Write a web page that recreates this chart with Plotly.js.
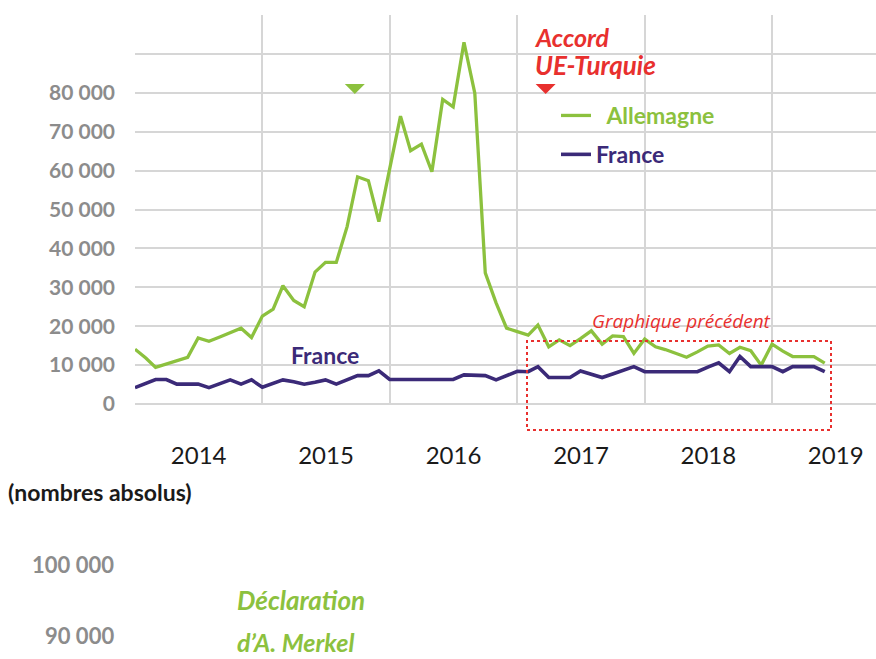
<!DOCTYPE html>
<html>
<head>
<meta charset="utf-8">
<script src="https://cdn.plot.ly/plotly-3.0.1.min.js"></script>
<style>html,body{margin:0;padding:0;background:#fff;}#chart{width:876px;height:659px;}</style>
</head>
<body>
<div id="chart"></div>
<script>
// Monthly series, January 2014 to June 2019
const startYear = 2014;
const monthCount = 66;
const allemagne = [
  14100, 11800, 9400, 10300, 11100, 12000, 17000, 16100, 17200, 18400, 19500, 17100,
  22600, 24400, 30400, 26600, 25000, 33900, 36400, 36400, 45600, 58400, 57400, 46900,
  60500, 74000, 65100, 66800, 59700, 78300, 76400, 93000, 79900, 33700, 26000, 19500,
  18600, 17700, 20300, 14700, 16500, 15000, 16800, 18800, 15400, 17500, 17300, 13000,
  16700, 14700, 14000, 13000, 12000, 13400, 14900, 15200, 13000, 14600, 13700, 10000,
  15400, 13600, 12200, 12200, 12200, 10500
];
const france = [
  4200, 5200, 6300, 6300, 5100, 5100, 5100, 4200, 5200, 6200, 5100, 6200,
  4300, 5200, 6200, 5700, 5100, 5600, 6200, 5100, 6200, 7300, 7300, 8500,
  6300, 6300, 6300, 6300, 6300, 6300, 6300, 7500, 7400, 7300, 6200, 7300,
  8400, 8300, 9600, 6800, 6800, 6800, 8500, 7600, 6800, 7700, 8600, 9600,
  8300, 8300, 8300, 8300, 8300, 8300, 9500, 10600, 8300, 12200, 9600, 9600,
  9600, 8300, 9600, 9600, 9600, 8300
];
const yTickVals = [0, 10000, 20000, 30000, 40000, 50000, 60000, 70000, 80000, 90000, 100000];
const yTickText = ['0', '10 000', '20 000', '30 000', '40 000', '50 000', '60 000', '70 000', '80 000', '', ''];
const detachedTickText = ['100 000', '90 000'];
const seriesNames = ['Allemagne', 'France'];
const eventNames = ['Déclaration d’A. Merkel', 'Accord UE-Turquie'];
const eventDates = ['2015-09-23', '2017-03-23'];
const eventLevel = [81000, 81000];

const months = [];
for (let i = 0; i < monthCount; i++) {
  const y = startYear + Math.floor(i / 12);
  const m = (i % 12) + 1;
  months.push(y + '-' + String(m).padStart(2, '0') + '-01');
}

const GREEN = '#8cc13e';
const PURPLE = '#3b2a78';
const RED = '#e8302e';
const GRAY = '#8c8c8c';
const GRID = '#d6d6d6';
const FONT = 'Lato, "Open Sans", sans-serif';

// plot box in pixels: left 135, right 876, top 15, bottom 404
const L = 135, R = 876, T = 15, B = 404;
const px = v => (v - L) / (R - L);
const py = v => (B - v) / (B - T);

const traces = [
  {x: months, y: allemagne, type: 'scatter', mode: 'lines', name: '\u00a0\u00a0' + seriesNames[0],
   legendgroup: 'a', line: {color: GREEN, width: 3.3}, hoverinfo: 'skip'},
  {x: months, y: france, type: 'scatter', mode: 'lines', name: seriesNames[1],
   legendgroup: 'f', line: {color: PURPLE, width: 3.6}, hoverinfo: 'skip'}
];

const tri = 'M-10,5 L10,5 L0,-5 Z';
const shapes = [
  {type: 'path', xref: 'x', yref: 'y', xsizemode: 'pixel', ysizemode: 'pixel',
   xanchor: eventDates[0], yanchor: eventLevel[0], path: tri,
   fillcolor: GREEN, line: {width: 0}},
  {type: 'path', xref: 'x', yref: 'y', xsizemode: 'pixel', ysizemode: 'pixel',
   xanchor: eventDates[1], yanchor: eventLevel[1], path: tri,
   fillcolor: RED, line: {width: 0}},
  {type: 'rect', xref: 'paper', yref: 'paper', x0: px(527), x1: px(831), y0: py(430), y1: py(341),
   line: {color: RED, width: 2, dash: 'dot'}, fillcolor: 'rgba(0,0,0,0)', layer: 'above'}
];

const annotations = [
  {text: '<b><i>Accord</i></b>', x: px(533), y: py(37), xanchor: 'left', yanchor: 'middle',
   font: {family: FONT, size: 25, color: RED}},
  {text: '<b><i>UE-Turquie</i></b>', x: px(533), y: py(65), xanchor: 'left', yanchor: 'middle',
   font: {family: FONT, size: 26, color: RED}},
  {text: '<b>France</b>', x: px(289), y: py(355), xanchor: 'left', yanchor: 'middle',
   font: {family: FONT, size: 23, color: PURPLE}},
  {text: '<i>Graphique précédent</i>', x: px(681), y: py(321), xanchor: 'center', yanchor: 'middle',
   font: {family: '"Open Sans", sans-serif', size: 19, color: RED}},
  {text: '<b>(nombres absolus)</b>', x: px(6), y: py(492), xanchor: 'left', yanchor: 'middle',
   font: {family: FONT, size: 23, color: '#1a1a1a'}},
  {text: '<b>' + detachedTickText[0] + '</b>', x: px(116), y: py(564), xanchor: 'right', yanchor: 'middle',
   font: {family: FONT, size: 22, color: GRAY}},
  {text: '<b>' + detachedTickText[1] + '</b>', x: px(116), y: py(635), xanchor: 'right', yanchor: 'middle',
   font: {family: FONT, size: 22, color: GRAY}},
  {text: '<b><i>Déclaration</i></b>', x: px(235), y: py(600), xanchor: 'left', yanchor: 'middle',
   font: {family: FONT, size: 26, color: GREEN}},
  {text: '<b><i>d’A. Merkel</i></b>', x: px(235), y: py(642), xanchor: 'left', yanchor: 'middle',
   font: {family: FONT, size: 25, color: GREEN}}
].map(a => Object.assign({xref: 'paper', yref: 'paper', showarrow: false}, a));

const layout = {
  width: 876, height: 659,
  margin: {l: L, r: 876 - R, t: T, b: 659 - B, pad: 0},
  paper_bgcolor: '#ffffff', plot_bgcolor: '#ffffff',
  font: {family: FONT},
  showlegend: true,
  legend: {x: px(556), y: py(94), xanchor: 'left', yanchor: 'top',
           bgcolor: 'rgba(0,0,0,0)', borderwidth: 0, tracegroupgap: 6, traceorder: 'grouped',
           font: {family: FONT, size: 23, color: PURPLE, weight: 'bold'}},
  xaxis: {type: 'date', range: ['2014-01-01', '2019-10-26'], dtick: 'M12', tick0: '2014-01-01',
          tickformat: '%Y', ticklabelmode: 'period', showgrid: true, gridcolor: GRID, gridwidth: 2,
          zeroline: false, showline: false, ticks: '', ticklabelstandoff: 35,
          tickfont: {family: FONT, size: 24, color: '#1a1a1a'}},
  yaxis: {range: [0, 100000], tickvals: yTickVals, ticktext: yTickText,
          showgrid: true, gridcolor: GRID, gridwidth: 2, zeroline: true, zerolinecolor: GRID,
          zerolinewidth: 2, showline: false, ticks: '', ticklabelstandoff: 19,
          tickfont: {family: FONT, size: 21, color: GRAY, weight: 'bold'}},
  shapes: shapes,
  annotations: annotations
};

Plotly.newPlot('chart', traces, layout, {staticPlot: true, displayModeBar: false}).then(gd => {
  const texts = gd.querySelectorAll('.legendtext');
  if (texts[0]) texts[0].style.fill = GREEN;
  if (texts[1]) texts[1].style.fill = PURPLE;
});
</script>
</body>
</html>
